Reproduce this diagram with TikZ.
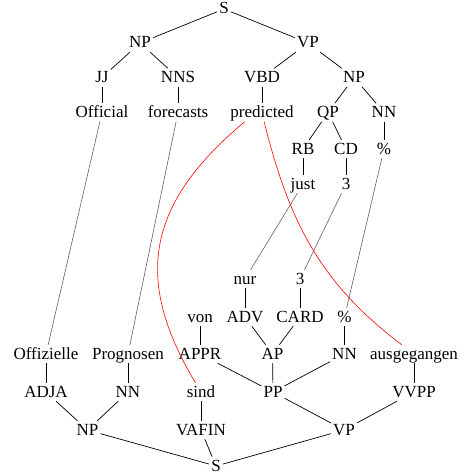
\documentclass[tikz,border=0pt]{standalone}
\usepackage{fontspec}
\setmainfont{Liberation Serif}
\usetikzlibrary{positioning}

\begin{document}
\begin{tikzpicture}[x=1pt,y=-1pt,on grid,
  every node/.style={font=\fontsize{17}{20}\selectfont,inner sep=2pt,text height=12pt,text depth=2pt},
  tree/.style={draw=black,line width=0.7pt},
  align line/.style={draw=black!62,line width=0.6pt},
  shift line/.style={draw=red,line width=0.6pt}]
  \useasboundingbox (0,0) rectangle (463,476);

  % English tree
  \node (S_e)   at (224,9)    {S};
  \node (NP_e)  at (140,43)   {NP};
  \node (VP_e)  at (308,43)   {VP};
  \node (JJ_e)  at (102,77.5) {JJ};
  \node (NNS_e) at (178,77.5) {NNS};
  \node (VBD_e) at (262,77.5) {VBD};
  \node (NPb_e) at (354,77.5) {NP};
  \node (official)  [below=35pt of JJ_e]  {Official};
  \node (forecasts) [below=35pt of NNS_e] {forecasts};
  \node (predicted) [below=35pt of VBD_e] {predicted};
  \node (QP_e)  at (328,112.5) {QP};
  \node (NN_e)  at (384,112.5) {NN};
  \node (RB_e)  at (303,149)   {RB};
  \node (CD_e)  at (346,149)   {CD};
  \node (pct_e)   [below=36.5pt of NN_e] {\%};
  \node (just)    [below=35pt of RB_e]   {just};
  \node (three_e) [below=35pt of CD_e]   {3};

  % German tree
  \node (nur)     at (245,279) {nur};
  \node (three_g) at (300,279) {3};
  \node (ADV_g)  [below=38pt of nur]     {ADV};
  \node (CARD_g) [below=38pt of three_g] {CARD};
  \node (von)     at (200,317)   {von};
  \node (pct_g)   at (344.5,317) {\%};
  \node (offizielle)  at (46,354)    {Offizielle};
  \node (prognosen)   at (128,354)   {Prognosen};
  \node (APPR_g) [below=37pt of von]   {APPR};
  \node (AP_g)    at (272.5,354) {AP};
  \node (NN_g)   [below=37pt of pct_g] {NN};
  \node (ausgegangen) at (414,354)   {ausgegangen};
  \node (ADJA_g) [below=38pt of offizielle]  {ADJA};
  \node (NNb_g)  [below=38pt of prognosen]   {NN};
  \node (sind)    at (201,392) {sind};
  \node (PP_g)    at (273,392) {PP};
  \node (VVPP_g) [below=38pt of ausgegangen] {VVPP};
  \node (NP_g)    at (87.5,430) {NP};
  \node (VAFIN_g) [below=38pt of sind] {VAFIN};
  \node (VP_g)    at (344,430)  {VP};
  \node (S_g)     at (216,466)  {S};

  \path[tree] (S_e) edge (NP_e) edge (VP_e)
    (NP_e) edge (JJ_e) edge (NNS_e)
    (VP_e) edge (VBD_e) edge (NPb_e)
    (JJ_e) edge (official)
    (NNS_e) edge (forecasts)
    (VBD_e) edge (predicted)
    (NPb_e) edge (QP_e) edge (NN_e)
    (QP_e) edge (RB_e) edge (CD_e)
    (NN_e) edge (pct_e)
    (RB_e) edge (just)
    (CD_e) edge (three_e);

  \path[tree] (S_g) edge (NP_g) edge (VAFIN_g) edge (VP_g)
    (NP_g) edge (ADJA_g) edge (NNb_g)
    (ADJA_g) edge (offizielle)
    (NNb_g) edge (prognosen)
    (VAFIN_g) edge (sind)
    (VP_g) edge (PP_g) edge (VVPP_g)
    (VVPP_g) edge (ausgegangen)
    (PP_g) edge (APPR_g) edge (AP_g) edge (NN_g)
    (APPR_g) edge (von)
    (AP_g) edge (ADV_g) edge (CARD_g)
    (ADV_g) edge (nur)
    (CARD_g) edge (three_g)
    (NN_g) edge (pct_g);

  % word alignment
  \path[align line] (official) edge (offizielle)
    (forecasts) edge (prognosen)
    (just) edge (nur)
    (three_e) edge (three_g)
    (pct_e) edge (pct_g);
  \path[shift line] (predicted.208) edge [out=220,in=121,looseness=1.2] (sind)
    (predicted.283) edge [out=284,in=143] (ausgegangen);
\end{tikzpicture}
\end{document}
